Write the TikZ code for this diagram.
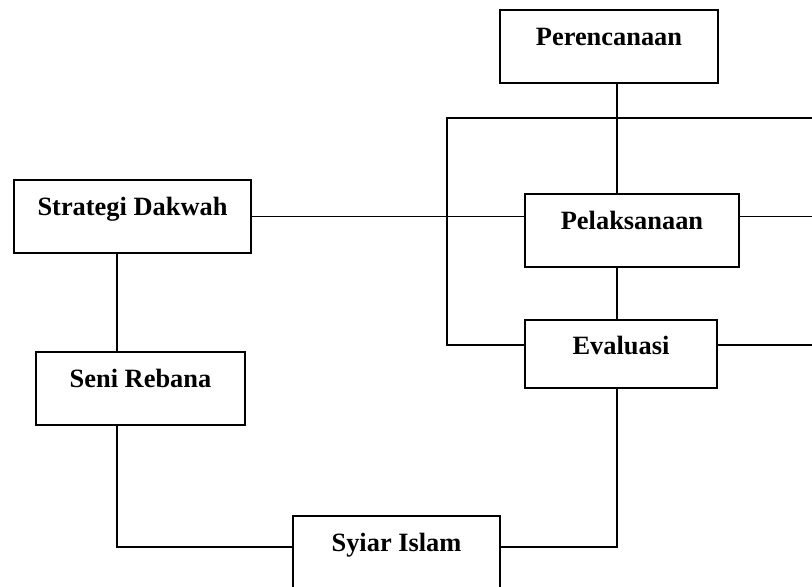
\documentclass[tikz,border=0pt]{standalone}
\usepackage{fontspec}
\setmainfont{Liberation Serif}
\usepackage{tikz}

\begin{document}
\begin{tikzpicture}
[every node/.style={inner sep=0pt},
 stagebox/.style={rectangle, draw=black, line width=1pt, fill=white, text height=9pt, text depth=9.8pt, font=\fontsize{13.2pt}{15pt}\selectfont\bfseries, minimum height=36.5pt},
 link/.style={line width=0.7pt, color=black}]
\useasboundingbox (0pt, 0pt) rectangle (406pt, -293.5pt);
\clip (0pt, 0pt) rectangle (406pt, -293.5pt);
\node (per) [stagebox, minimum width=109pt] at (304.5pt, -23.25pt) {Perencanaan};
\node (pel) [stagebox, minimum width=107pt] at (316pt, -115.25pt) {Pelaksanaan};
\node (eva) [stagebox, minimum width=96pt, minimum height=34pt, text depth=8.6pt] at (310.5pt, -177pt) {Evaluasi};
\node (str) [stagebox, minimum width=118.5pt] at (66.25pt, -108.25pt) {Strategi Dakwah};
\node (sen) [stagebox, minimum width=104.5pt] at (70.25pt, -194.25pt) {Seni Rebana};
\node (syi) [stagebox, minimum width=103.5pt] at (198.25pt, -276.25pt) {Syiar Islam};
\coordinate (spine) at (308.5pt, -273.5pt);
\coordinate (busL) at (223.5pt, -59pt);
\coordinate (busR) at (406pt, -59pt);
\coordinate (evaL) at (223.5pt, -172.5pt);
\coordinate (evaR) at (406pt, -172.5pt);
\coordinate (pelR) at (406pt, -108.25pt);
\coordinate (low) at (58.5pt, -273.5pt);
\draw [link] (spine |- per.south) to (spine |- pel.north);
\draw [link] (spine |- pel.south) to (spine |- eva.north);
\draw [link] (busR) to (busL) to (evaL) to (evaL -| eva.west);
\draw [link] (eva.east |- evaR) to (evaR);
\draw [link] (str.east) to (str.east -| pel.west);
\draw [link] (pel.east |- pelR) to (pelR);
\draw [link] (low |- str.south) to (low |- sen.north);
\draw [link] (low |- sen.south) to (low) to (low -| syi.west);
\draw [link] (syi.east |- spine) to (spine) to (spine |- eva.south);
\end{tikzpicture}
\end{document}
